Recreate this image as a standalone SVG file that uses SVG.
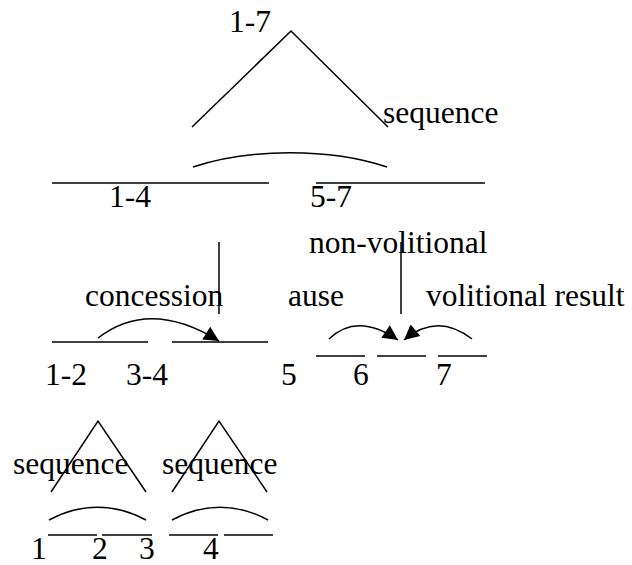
<svg xmlns="http://www.w3.org/2000/svg" width="632" height="565" viewBox="0 0 632 565">
<style>
text{font-family:"Liberation Serif","Times New Roman",serif;font-size:31.5px;fill:#000}
.ln{stroke:#000;stroke-width:1.5;fill:none}
</style>
<defs>
<marker id="ah" viewBox="0 0 10 10" refX="10" refY="5" markerUnits="userSpaceOnUse" markerWidth="17" markerHeight="15" orient="auto">
<path d="M0,0 L10,5 L0,10 z" fill="#000"/>
</marker>
</defs>
<rect width="632" height="565" fill="#fff"/>
<g id="n1-7"><text x="229" y="32">1-7</text></g>
<g id="n1-4"><line class="ln" x1="52" y1="183" x2="269" y2="183"/><text x="109" y="207">1-4</text></g>
<g id="n5-7"><line class="ln" x1="316" y1="183" x2="485" y2="183"/><text x="310" y="207">5-7</text></g>
<g id="n1-2"><line class="ln" x1="52" y1="342" x2="148" y2="342"/><text x="45" y="385">1-2</text></g>
<g id="n3-4"><line class="ln" x1="172" y1="342" x2="268" y2="342"/><text x="126" y="385">3-4</text></g>
<g id="n5"><line class="ln" x1="316" y1="356" x2="365" y2="356"/><text x="281" y="385">5</text></g>
<g id="n6"><line class="ln" x1="377" y1="356" x2="426" y2="356"/><text x="353" y="385">6</text></g>
<g id="n7"><line class="ln" x1="438" y1="356" x2="487" y2="356"/><text x="436" y="385">7</text></g>
<g id="n1"><line class="ln" x1="48" y1="535" x2="97" y2="535"/><text x="31" y="559">1</text></g>
<g id="n2"><line class="ln" x1="102" y1="535" x2="152" y2="535"/><text x="92" y="559">2</text></g>
<g id="n3"><line class="ln" x1="169" y1="535" x2="218" y2="535"/><text x="139" y="559">3</text></g>
<g id="n4"><line class="ln" x1="224" y1="535" x2="273" y2="535"/><text x="203" y="559">4</text></g>
<g id="connectors">
<polyline class="ln" points="192,127 291,31 388,127"/>
<path class="ln" d="M193,167 C250,148 330,148 387,167"/>
<line class="ln" x1="219" y1="242" x2="219" y2="314"/>
<line class="ln" x1="401" y1="242" x2="401" y2="314"/>
<path class="ln" d="M98,338 Q150,298 219,341" marker-end="url(#ah)"/>
<path class="ln" d="M329,339 Q357,312 398,340" marker-end="url(#ah)"/>
<path class="ln" d="M472,339 Q437,312 404,340" marker-end="url(#ah)"/>
<polyline class="ln" points="51,492 98,421 146,492"/>
<polyline class="ln" points="172,492 219,421 267,492"/>
<path class="ln" d="M49,520 C80,503 115,503 146,520"/>
<path class="ln" d="M172,520 C203,503 237,503 268,520"/>
</g>
<g id="labels">
<text x="383" y="123">sequence</text>
<text x="309" y="253">non-volitional</text>
<text x="85" y="306">concession</text>
<text x="288" y="306">ause</text>
<text x="426" y="306">volitional result</text>
<text x="13" y="474">sequence</text>
<text x="162" y="474">sequence</text>
</g>
</svg>
